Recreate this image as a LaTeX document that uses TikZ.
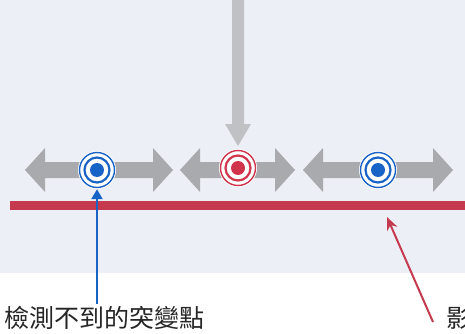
\documentclass[tikz,border=0pt]{standalone}
\usepackage{fontspec}
\newfontfamily\cjk{Noto Sans CJK TC}
\usetikzlibrary{arrows.meta}
\definecolor{bgc}{HTML}{ECF0F6}
\definecolor{greyar}{HTML}{A8AAAD}
\definecolor{greytop}{HTML}{BFC1C4}
\definecolor{dblue}{HTML}{1763C6}
\definecolor{dred}{HTML}{CF344C}
\definecolor{lred}{HTML}{C53A4F}
\tikzset{
  dot/.style={circle,fill=white,minimum size=38pt,inner sep=0pt,
    path picture={
      \fill[#1] (path picture bounding box.center) circle (7pt);
      \draw[#1,line width=2.2pt] (path picture bounding box.center) circle (12.5pt);
      \draw[#1,line width=1.4pt] (path picture bounding box.center) circle (17.5pt);
    }},
  label/.style={anchor=west,inner sep=0pt,font=\cjk\fontsize{25}{25}\selectfont,text=black!85},
  conn/.style={line width=2.3pt,-{Triangle[length=10pt,width=11pt]}},
}
\newcommand{\dblarrow}[3]{% left tip x, right tip x, centre y
  \fill[greyar] (#1,#3) -- (#1+20,#3+22) -- (#1+20,#3+8) -- (#2-20,#3+8) -- (#2-20,#3+22)
    -- (#2,#3) -- (#2-20,#3-22) -- (#2-20,#3-8) -- (#1+20,#3-8) -- (#1+20,#3-22) -- cycle;}
\begin{document}
\begin{tikzpicture}[x=1pt,y=-1pt]
\useasboundingbox (0,0) rectangle (465,334);
\clip (0,0) rectangle (465,334);
\fill[bgc] (0,0) rectangle (465,273);
% top grey arrow
\fill[greytop] (232,0) -- (244,0) -- (244,124) -- (251,124) -- (238,146) -- (225,124) -- (232,124) -- cycle;
% double arrows
\dblarrow{25}{173}{170}
\dblarrow{180}{295}{170}
\dblarrow{303}{453}{170}
% red line
\draw[lred,line width=9pt] (10,205) -- (465,205);
% dots
\node[dot=dblue] (c1) at (97,170) {};
\node[dot=dred] (c2) at (238,168) {};
\node[dot=dblue] (c3) at (378,170) {};
% labels
\node[label] (l1) at (4,318) {檢測不到的突變點};
\node[label] (l2) at (446,318) {影};
\coordinate (b1) at (97,304);
\coordinate (r1) at (433,322);
\coordinate (r2) at (387,217);
\draw[conn,dblue] (b1) -- (c1.south);
\draw[lred,line width=2pt,-{Stealth[length=13pt,width=11pt]}] (r1) -- (r2);
\end{tikzpicture}
\end{document}
